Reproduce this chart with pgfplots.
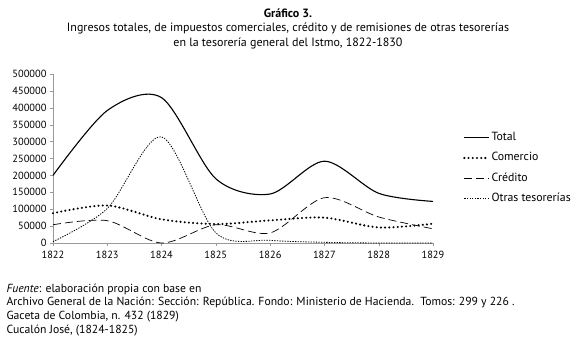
\documentclass[border=0pt]{standalone}
\usepackage{pgfplots}
\pgfplotsset{compat=1.18}
\usepackage{fontspec}
\setmainfont{PT Sans}
\pgfplotstableread{
year total comercio credito otras
1822 200000 88000 54000 4000
1823 392000 111000 66000 102000
1824 430000 70000 0 314000
1825 190000 56000 54000 30000
1826 145000 67000 30000 8000
1827 242000 75000 134000 2000
1828 147000 46000 77000 0
1829 123000 57000 42000 0
}\data
\begin{document}
\begin{tikzpicture}
\path[use as bounding box] (0pt,0pt) rectangle (575pt,342pt);
\begin{axis}[
  at={(53pt,99pt)}, anchor=south west,
  scale only axis, width=380pt, height=169pt,
  xmin=1822, xmax=1829, ymin=0, ymax=500000,
  xtick={1822,...,1829}, ytick={0,50000,...,500000},
  xticklabels={1822,1823,1824,1825,1826,1827,1828,1829},
  yticklabels={0,50000,100000,150000,200000,250000,300000,350000,400000,450000,500000},
  scaled ticks=false,
  axis x line=bottom, axis y line=left,
  axis line style={gray!80, -},
  tick align=outside, major tick length=3pt,
  tick style={gray!80},
  ticklabel style={font=\fontsize{10.4}{12}\selectfont},
  xticklabel style={yshift=-2pt},
  clip=false,
  legend style={at={(410pt,112pt)}, anchor=north west, draw=none, fill=none,
    inner sep=0pt,
    nodes={inner sep=1pt, text height=8.5pt, text depth=2.5pt},
    font=\fontsize{11.8}{13}\selectfont, row sep=7.3pt, column sep=0pt,
    legend cell align=left},
  legend image code/.code={\draw[#1] (0pt,0pt) -- (25pt,0pt);},
]
\addplot[black, line width=1.1pt, smooth, tension=0.5] table[x=year,y=total]{\data};
\addlegendentry{Total}
\addplot[black, line width=2.3pt, line cap=round, dash pattern=on 0pt off 4.2pt, smooth, tension=0.5] table[x=year,y=comercio]{\data};
\addlegendentry{Comercio}
\addplot[black, line width=0.7pt, dash pattern=on 8pt off 4pt, smooth, tension=0.5] table[x=year,y=credito]{\data};
\addlegendentry{Crédito}
\addplot[black, line width=0.8pt, dash pattern=on 1.3pt off 1.3pt, smooth, tension=0.5] table[x=year,y=otras]{\data};
\addlegendentry{Otras tesorerías}
\end{axis}
\node[font=\fontsize{12}{13}\selectfont\bfseries] at (288pt,329pt) {Gráfico 3.};
\node[font=\fontsize{12}{13}\selectfont] at (288pt,314pt) {Ingresos totales, de impuestos comerciales, crédito y de remisiones de otras tesorerías};
\node[font=\fontsize{12}{13}\selectfont] at (288pt,299pt) {en la tesorería general del Istmo, 1822-1830};
\node[font=\fontsize{11.7}{13}\selectfont, anchor=west] at (3pt,53pt) {\textit{Fuente}: elaboración propia con base en};
\node[font=\fontsize{11.7}{13}\selectfont, anchor=west] at (3pt,39.5pt) {Archivo General de la Nación: Sección: República. Fondo: Ministerio de Hacienda.\ \ Tomos: 299 y 226 .};
\node[font=\fontsize{11.7}{13}\selectfont, anchor=west] at (3pt,25pt) {Gaceta de Colombia, n. 432 (1829)};
\node[font=\fontsize{11.7}{13}\selectfont, anchor=west] at (3pt,11pt) {Cucalón José, (1824-1825)};
\end{tikzpicture}
\end{document}
